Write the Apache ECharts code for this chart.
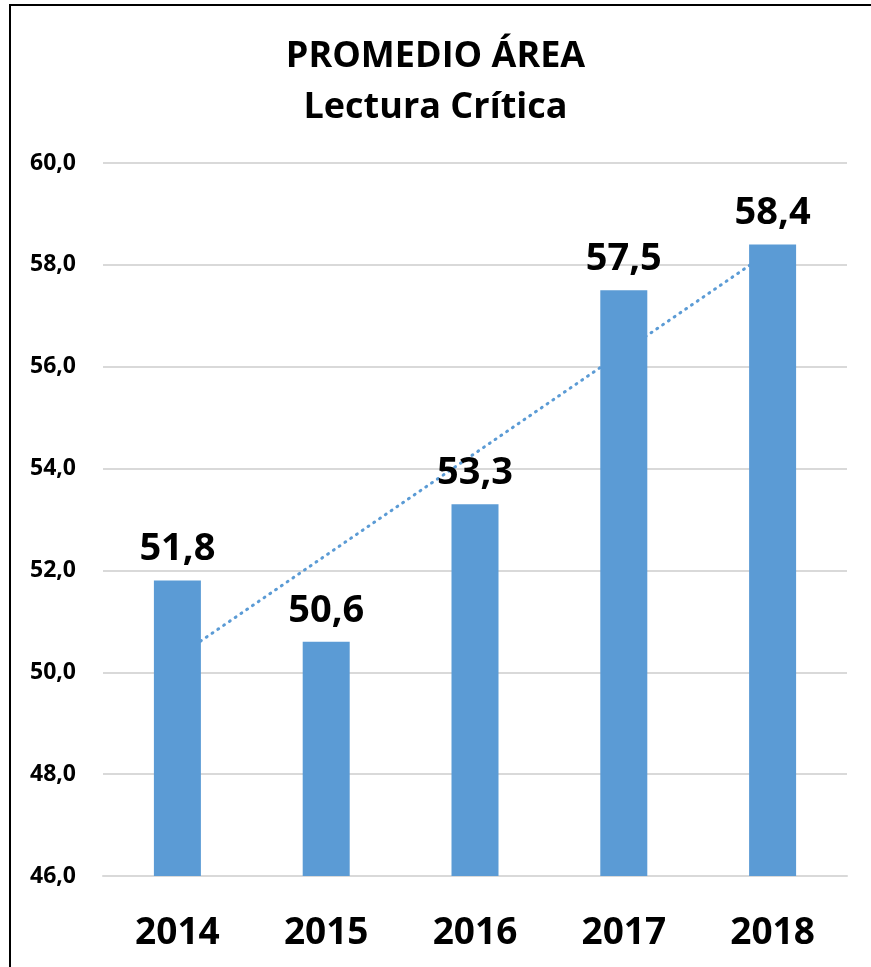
<!DOCTYPE html>
<html>
<head>
<meta charset="utf-8">
<script src="https://cdn.jsdelivr.net/npm/echarts@6/dist/echarts.min.js"></script>
<style>
  html, body { margin: 0; padding: 0; background: #fff; }
  #frame { position: absolute; left: 9px; top: 4px; width: 880px; height: 980px; border: 2px solid #000; box-sizing: border-box; }
  #chart { position: absolute; left: 0; top: 0; width: 871px; height: 967px; }
</style>
</head>
<body>
<div id="frame"></div>
<div id="chart"></div>
<script>
// datos
const years = ['2014', '2015', '2016', '2017', '2018'];
const promedio = [51.8, 50.6, 53.3, 57.5, 58.4];
// línea de tendencia (punteada) estimada del gráfico
const tendencia = [50.3, 52.3, 54.3, 56.3, 58.3];

const fmt = v => v.toFixed(1).replace('.', ',');
const fontFam = '"Open Sans", "Noto Sans", sans-serif';

const myChart = echarts.init(document.getElementById('chart'));
const option = {
  animation: false,
  textStyle: { fontFamily: fontFam },
  title: {
    text: 'PROMEDIO ÁREA\nLectura Crítica',
    left: 'center',
    top: 26,
    textStyle: { fontSize: 36, fontWeight: 'bold', color: '#000', lineHeight: 51, fontFamily: fontFam }
  },
  grid: { left: 103, right: 24, top: 163, bottom: 91 },
  xAxis: {
    type: 'category',
    data: years,
    axisLine: { lineStyle: { color: '#d9d9d9', width: 2 } },
    axisTick: { show: false },
    axisLabel: { fontSize: 37, fontWeight: 'bold', color: '#000', margin: 39, fontFamily: fontFam }
  },
  yAxis: {
    type: 'value',
    min: 46,
    max: 60,
    interval: 2,
    axisLine: { show: false },
    axisTick: { show: false },
    splitLine: { lineStyle: { color: '#d9d9d9', width: 2 } },
    axisLabel: { fontSize: 23, fontWeight: 'bold', color: '#000', margin: 27, formatter: v => fmt(v), fontFamily: fontFam }
  },
  series: [
    {
      name: 'Tendencia',
      type: 'line',
      data: tendencia,
      z: 1,
      symbol: 'none',
      lineStyle: { color: '#5b9bd5', width: 3, type: [1, 6], cap: 'round' }
    },
    {
      name: 'Promedio',
      type: 'bar',
      data: promedio,
      z: 3,
      barWidth: 47,
      itemStyle: { color: '#5b9bd5' },
      label: {
        show: true,
        position: 'top',
        distance: 12,
        fontSize: 38,
        fontWeight: 'bold',
        color: '#000',
        fontFamily: fontFam,
        formatter: p => fmt(p.value)
      }
    }
  ]
};
myChart.setOption(option);
</script>
</body>
</html>
